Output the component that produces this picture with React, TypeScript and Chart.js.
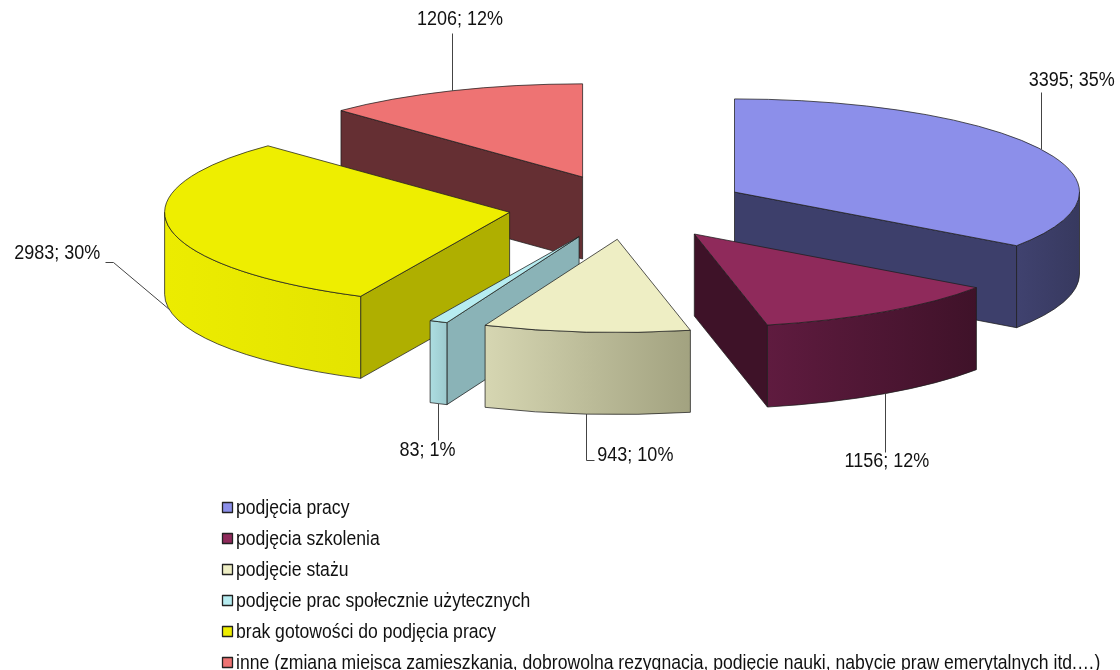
import React, { useEffect, useRef } from 'react';
import { Chart, registerables } from 'chart.js';

Chart.register(...registerables);

// ---------- data ----------
const categories = [
  'podjęcia pracy',
  'podjęcia szkolenia',
  'podjęcie stażu',
  'podjęcie prac społecznie użytecznych',
  'brak gotowości do podjęcia pracy',
  'inne (zmiana miejsca zamieszkania, dobrowolna rezygnacja, podjęcie nauki, nabycie praw emerytalnych itd.…)',
];
const counts = [3395, 1156, 943, 83, 2983, 1206];
const percentLabels = [35, 12, 10, 1, 30, 12];

// ---------- styles ----------
const topColors = ['#8C8FEA', '#8F2A5B', '#EEEEC4', '#B6ECF0', '#EEEE00', '#EE7373'];
const wallLight = ['#40426F', '#5F1B3F', '#D6D6B2', '#ACDDE1', '#ECEC00', '#6A3035'];
const wallDark = ['#37395F', '#3F1229', '#A2A280', '#9CCACE', '#E4E400', '#5E2A2F'];
const faceColors = ['#3D3F6B', '#3E1228', '#B8B896', '#8AB3B7', '#AFAF00', '#652F33'];

const TILT = 0.27; // vertical squash of the pie plane
const DEPTH = 82; // extrusion height in px
const EXPLODE = 120; // explosion distance in px
const RADIUS = 345;
const TEXT_STRETCH = 1.15; // reference text is drawn taller than wide

// leader lines / label placement relative to each slice's anchor point
const labelLayout = [
  { line: [[0, -57]], text: [31, -69], align: 'center' },
  { line: [[0, 58]], text: [2, 68], align: 'center' },
  { line: [[0, 46], [8, 46]], text: [11, 41], align: 'left' },
  { line: [[0, 36]], text: [-11, 47], align: 'center' },
  { line: [[-56, -48], [-64, -48]], text: [-69, -56], align: 'right' },
  { line: [[0, -58]], text: [8, -71], align: 'center' },
];

const FONT = '"Liberation Sans", Arial, sans-serif';
const EDGE = 'rgba(30,30,30,0.75)';

function stretchedText(ctx: CanvasRenderingContext2D, text: string, x: number, y: number) {
  ctx.save();
  ctx.translate(x, y);
  ctx.scale(1, TEXT_STRETCH);
  ctx.fillText(text, 0, 0);
  ctx.restore();
}

const pie3d = {
  id: 'pie3d',
  beforeDatasetsDraw(chart: any) {
    const ctx: CanvasRenderingContext2D = chart.ctx;
    const meta = chart.getDatasetMeta(0);
    const slices = meta.data.map((arc: any, i: number) => {
      const p = arc.getProps(['x', 'y', 'startAngle', 'endAngle', 'outerRadius'], true);
      const mid = (p.startAngle + p.endAngle) / 2;
      const rx = p.outerRadius;
      const ry = p.outerRadius * TILT;
      return {
        i,
        a0: p.startAngle,
        a1: p.endAngle,
        mid,
        rx,
        ry,
        px: p.x + EXPLODE * Math.cos(mid),
        py: p.y + EXPLODE * TILT * Math.sin(mid),
      };
    });

    const order = [...slices].sort((a, b) => Math.sin(a.mid) - Math.sin(b.mid));
    ctx.save();
    ctx.lineJoin = 'round';
    ctx.lineWidth = 1;
    ctx.strokeStyle = EDGE;

    for (const s of order) {
      const { px, py, rx, ry, a0, a1, i } = s;
      const pt = (t: number, dz = 0) => [px + rx * Math.cos(t), py + ry * Math.sin(t) + dz];

      // radial faces
      const face = (t: number) => {
        const q = pt(t);
        ctx.beginPath();
        ctx.moveTo(px, py);
        ctx.lineTo(q[0], q[1]);
        ctx.lineTo(q[0], q[1] + DEPTH);
        ctx.lineTo(px, py + DEPTH);
        ctx.closePath();
        ctx.fillStyle = faceColors[i];
        ctx.fill();
        ctx.stroke();
      };
      if (Math.cos(a0) < -1e-6) face(a0);
      if (Math.cos(a1) > 1e-6) face(a1);

      // outer curved wall (front half only)
      const t0 = Math.max(a0, 0);
      const t1 = Math.min(a1, Math.PI);
      if (t1 > t0) {
        const xL = pt(t1)[0];
        const xR = pt(t0)[0];
        const g = ctx.createLinearGradient(xL, 0, xR, 0);
        g.addColorStop(0, wallLight[i]);
        g.addColorStop(1, wallDark[i]);
        ctx.beginPath();
        ctx.ellipse(px, py, rx, ry, 0, t0, t1, false);
        const b = pt(t1, DEPTH);
        ctx.lineTo(b[0], b[1]);
        ctx.ellipse(px, py + DEPTH, rx, ry, 0, t1, t0, true);
        ctx.closePath();
        ctx.fillStyle = g;
        ctx.fill();
        ctx.stroke();
      }

      // top face
      ctx.beginPath();
      ctx.moveTo(px, py);
      ctx.ellipse(px, py, rx, ry, 0, a0, a1, false);
      ctx.closePath();
      ctx.fillStyle = topColors[i];
      ctx.fill();
      ctx.stroke();
    }

    // data labels with leader lines
    ctx.font = `18px ${FONT}`;
    ctx.textBaseline = 'middle';
    ctx.fillStyle = '#111';
    ctx.strokeStyle = '#444';
    ctx.lineWidth = 1;
    for (const s of slices) {
      const { px, py, rx, ry, mid, i } = s;
      const front = Math.sin(mid) > 0;
      const ax = px + rx * Math.cos(mid);
      const ay = py + ry * Math.sin(mid) + (front ? DEPTH : 0);
      const L = labelLayout[i];
      ctx.beginPath();
      ctx.moveTo(Math.round(ax) + 0.5, ay);
      for (const [dx, dy] of L.line) ctx.lineTo(Math.round(ax + dx) + 0.5, Math.round(ay + dy) + 0.5);
      ctx.stroke();
      ctx.textAlign = L.align as CanvasTextAlign;
      stretchedText(ctx, `${counts[i]}; ${percentLabels[i]}%`, ax + L.text[0], ay + L.text[1]);
    }

    // legend
    ctx.font = `17.6px ${FONT}`;
    ctx.textAlign = 'left';
    const labels: string[] = chart.data.labels;
    const colors: string[] = chart.data.datasets[0].backgroundColor;
    labels.forEach((lab, k) => {
      const y = 508 + k * 31;
      ctx.fillStyle = colors[k];
      ctx.fillRect(222.5, y - 5.5, 10, 10);
      ctx.strokeStyle = '#222';
      ctx.lineWidth = 1.3;
      ctx.strokeRect(222.5, y - 5.5, 10, 10);
      ctx.fillStyle = '#111';
      stretchedText(ctx, lab, 236, y);
    });

    ctx.restore();
    return false;
  },
};

export default function App() {
  const ref = useRef<HTMLCanvasElement | null>(null);
  useEffect(() => {
    if (!ref.current) return;
    const chart = new Chart(ref.current, {
      type: 'pie',
      data: {
        labels: categories,
        datasets: [
          {
            data: counts,
            backgroundColor: topColors,
            radius: RADIUS,
            borderWidth: 0,
          } as any,
        ],
      },
      options: {
        responsive: false,
        maintainAspectRatio: false,
        devicePixelRatio: 1,
        animation: false,
        events: [],
        layout: { padding: { left: 136, right: 0, top: 0, bottom: 256 } },
        plugins: {
          legend: { display: false },
          tooltip: { enabled: false },
        },
      },
      plugins: [pie3d as any],
    });
    return () => chart.destroy();
  }, []);
  return (
    <div style={{ position: 'absolute', left: 0, top: 0, width: 1120, height: 670, background: '#fff' }}>
      <canvas ref={ref} width={1120} height={670} style={{ width: 1120, height: 670, display: 'block' }} />
    </div>
  );
}
